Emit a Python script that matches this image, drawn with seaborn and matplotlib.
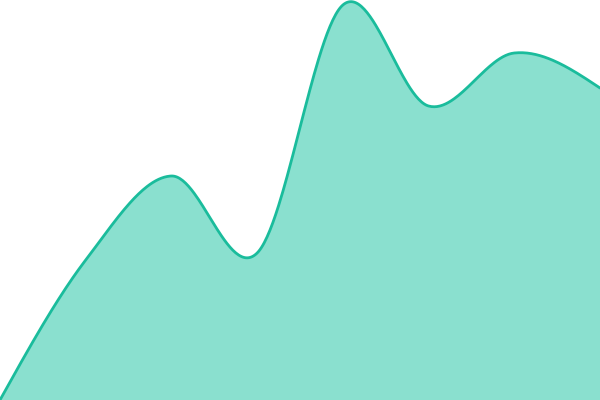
import numpy as np
import pandas as pd
import matplotlib
matplotlib.use("Agg")
import matplotlib.pyplot as plt
import seaborn as sns

# data (y-range 0..400)
positions = [0, 1, 2, 3, 4, 5, 6, 7]
values = [0, 140, 224, 147, 395, 294, 347, 312]

line_color = "#1abc9c"
fill_color = "#8ae0cf"


def catmull_rom(xs, ys, n=60):
    xs = np.asarray(xs, float)
    ys = np.asarray(ys, float)
    m = np.zeros_like(ys)
    m[1:-1] = (ys[2:] - ys[:-2]) / 2
    # natural-style end tangents
    m[0] = (3 * (ys[1] - ys[0]) - m[1]) / 2
    m[-1] = (3 * (ys[-1] - ys[-2]) - m[-2]) / 2
    out_x, out_y = [], []
    for i in range(len(xs) - 1):
        t = np.linspace(0, 1, n, endpoint=False)
        h00 = 2 * t**3 - 3 * t**2 + 1
        h10 = t**3 - 2 * t**2 + t
        h01 = -2 * t**3 + 3 * t**2
        h11 = t**3 - t**2
        out_x.append(xs[i] + t * (xs[i + 1] - xs[i]))
        out_y.append(h00 * ys[i] + h10 * m[i] + h01 * ys[i + 1] + h11 * m[i + 1])
    out_x.append([xs[-1]])
    out_y.append([ys[-1]])
    return np.concatenate(out_x), np.concatenate(out_y)


sx, sy = catmull_rom(positions, values)
curve = pd.DataFrame({"x": sx, "y": sy})

sns.set_theme(style="white")
fig = plt.figure(figsize=(6, 4), dpi=100)
ax = fig.add_axes([0, 0, 1, 1])
ax.fill_between(curve["x"], curve["y"], 0, color=fill_color, linewidth=0)
sns.lineplot(data=curve, x="x", y="y", ax=ax, color=line_color, linewidth=2, sort=False)
ax.set_xlim(positions[0], positions[-1])
ax.set_ylim(0, 400)
ax.axis("off")
fig.savefig("out.png", dpi=100)
